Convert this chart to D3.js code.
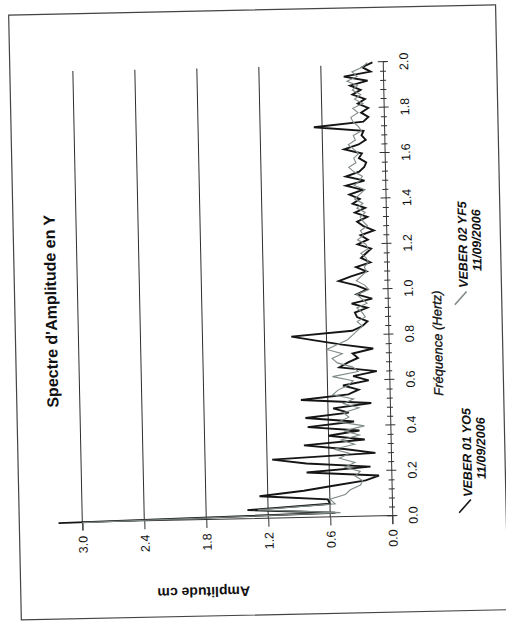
<html>
<head>
  <meta charset="utf-8">
  <title>Spectre d'Amplitude en Y</title>
  <script src="https://cdnjs.cloudflare.com/ajax/libs/d3/7.8.5/d3.min.js"></script>
  <style>
    body { margin: 0; background: #fff; }
    text { font-family: "Liberation Sans", Arial, sans-serif; fill: #111; }
  </style>
</head>
<body>
<script>
  // tick labels
  var freqTicks = [0.0, 0.2, 0.4, 0.6, 0.8, 1.0, 1.2, 1.4, 1.6, 1.8, 2.0];
  var ampTicks = [0.0, 0.6, 1.2, 1.8, 2.4, 3.0];

  // spectra, one value every 0.02 Hz from 0 to 2 Hz
  var freqStep = 0.02;
  var yo5 = [3.23, 0.55, 1.40, 0.60, 0.62, 1.28, 0.85, 0.55, 0.25, 0.12,
             0.82, 0.20, 0.82, 1.15, 0.15, 0.45, 0.84, 0.25, 0.60, 0.30,
             0.80, 0.35, 0.82, 0.40, 0.55, 0.18, 0.86, 0.40, 0.30, 0.45,
             0.20, 0.35, 0.12, 0.48, 0.40, 0.30, 0.35, 0.15, 0.45, 0.70,
             0.94, 0.35, 0.25, 0.20, 0.30, 0.32, 0.20, 0.35, 0.15, 0.30,
             0.20, 0.30, 0.47, 0.35, 0.20, 0.30, 0.16, 0.25, 0.20, 0.15,
             0.28, 0.18, 0.25, 0.12, 0.22, 0.28, 0.18, 0.30, 0.20, 0.32,
             0.25, 0.35, 0.22, 0.38, 0.20, 0.38, 0.25, 0.20, 0.18, 0.25,
             0.22, 0.39, 0.25, 0.18, 0.22, 0.20, 0.68, 0.20, 0.15, 0.22,
             0.15, 0.25, 0.18, 0.30, 0.22, 0.32, 0.15, 0.38, 0.12, 0.20,
             0.10];
  var yf5 = [3.00, 0.50, 1.30, 0.55, 0.60, 0.45, 0.40, 0.30, 0.28, 0.35,
             0.30, 0.45, 0.35, 0.50, 0.40, 0.55, 0.35, 0.48, 0.30, 0.45,
             0.25, 0.50, 0.40, 0.45, 0.30, 0.45, 0.35, 0.55, 0.50, 0.40,
             0.35, 0.55, 0.30, 0.35, 0.50, 0.55, 0.45, 0.60, 0.50, 0.40,
             0.35, 0.30, 0.25, 0.30, 0.22, 0.25, 0.30, 0.20, 0.25, 0.30,
             0.18, 0.22, 0.30, 0.25, 0.20, 0.22, 0.18, 0.20, 0.25, 0.18,
             0.20, 0.28, 0.22, 0.25, 0.18, 0.22, 0.25, 0.20, 0.28, 0.22,
             0.30, 0.25, 0.20, 0.30, 0.25, 0.22, 0.30, 0.35, 0.28, 0.30,
             0.25, 0.30, 0.35, 0.28, 0.30, 0.22, 0.25, 0.30, 0.32, 0.25,
             0.30, 0.20, 0.28, 0.22, 0.30, 0.25, 0.35, 0.25, 0.30, 0.20,
             0.15];

  var seriesNames = ["VEBER 01 YO5", "VEBER 02 YF5"];
  var seriesDates = ["11/09/2006", "11/09/2006"];
  var seriesColors = ["#151515", "#7f8a86"];

  var width = 506,
      height = 630,
      plotW = 454,
      plotH = 310;

  var svg = d3.select("body")
    .append("svg")
    .attr("width", width)
    .attr("height", height);

  // the scanned page sits a bit crooked
  var page = svg.append("g")
    .attr("transform", "rotate(-1.2,253,315)");

  page.append("rect")
    .attr("x", 15)
    .attr("y", 10)
    .attr("width", 487)
    .attr("height", 605)
    .attr("fill", "none")
    .attr("stroke", "#444")
    .attr("stroke-width", 1.2);

  // chart printed sideways: frequency goes up, amplitude goes left
  var g = page.append("g")
    .attr("transform", "translate(388,519) rotate(-90)");

  var x = d3.scaleLinear().domain([0, 2]).range([0, plotW]);
  var y = d3.scaleLinear().domain([0, 3]).range([0, -plotH]);

  // grid lines
  g.selectAll("line.grid")
    .data(ampTicks.slice(1))
    .enter()
    .append("line")
    .attr("class", "grid")
    .attr("x1", 0)
    .attr("x2", x(1.99))
    .attr("y1", function (d) { return y(d) })
    .attr("y2", function (d) { return y(d) })
    .attr("stroke", "#2e2e2e")
    .attr("stroke-width", 1);

  // amplitude axis
  var ampAxis = g.append("g")
    .call(d3.axisLeft(y).tickValues(ampTicks).tickSize(8).tickFormat(d3.format(".1f")));
  ampAxis.select(".domain").attr("stroke", "#333");
  ampAxis.selectAll(".tick line").attr("stroke", "#333");
  ampAxis.selectAll(".tick text")
    .attr("x", -22)
    .attr("dy", "0.35em")
    .attr("text-anchor", "middle")
    .style("font-size", "12.5px");

  // minor frequency ticks every 0.04
  var minorTicks = d3.range(0, 2.001, 0.04).filter(function (d) {
    return Math.abs(d / 0.2 - Math.round(d / 0.2)) > 0.01
  });
  g.selectAll("line.minor")
    .data(minorTicks)
    .enter()
    .append("line")
    .attr("class", "minor")
    .attr("x1", function (d) { return x(d) })
    .attr("x2", function (d) { return x(d) })
    .attr("y1", -3)
    .attr("y2", 3)
    .attr("stroke", "#333");

  // frequency axis
  var freqAxis = g.append("g")
    .call(d3.axisBottom(x).tickValues(freqTicks).tickSize(5).tickFormat(d3.format(".1f")));
  freqAxis.select(".domain").attr("stroke", "#333");
  freqAxis.selectAll(".tick line").attr("y1", -5).attr("stroke", "#333");
  freqAxis.selectAll(".tick text")
    .attr("y", 21)
    .attr("dy", "0.35em")
    .style("font-size", "12.5px");

  // the two spectra
  var line = d3.line()
    .x(function (d, i) { return x(i * freqStep) })
    .y(function (d) { return y(d) });

  g.append("path")
    .datum(yo5)
    .attr("d", line)
    .attr("fill", "none")
    .attr("stroke", seriesColors[0])
    .attr("stroke-width", 1.9);

  g.append("path")
    .datum(yf5)
    .attr("d", line)
    .attr("fill", "none")
    .attr("stroke", seriesColors[1])
    .attr("stroke-width", 1.1);

  // titles
  g.append("text")
    .attr("x", 212)
    .attr("y", -337)
    .attr("dy", "0.35em")
    .attr("text-anchor", "middle")
    .style("font-size", "16px")
    .style("font-weight", "bold")
    .text("Spectre d'Amplitude en Y");

  g.append("text")
    .attr("transform", "translate(-72,-190) rotate(-90)")
    .attr("dy", "0.35em")
    .attr("text-anchor", "middle")
    .style("font-size", "14px")
    .style("font-weight", "bold")
    .text("Amplitude cm");

  g.append("text")
    .attr("x", 172)
    .attr("y", 49)
    .attr("dy", "0.35em")
    .attr("text-anchor", "middle")
    .style("font-size", "13px")
    .style("font-style", "italic")
    .style("stroke", "#111")
    .style("stroke-width", 0.3)
    .text("Fréquence (Hertz)");

  // legend: short slanted line, name, date
  var legendX = [62, 270];
  seriesNames.forEach(function (name, i) {
    var lx = legendX[i];
    g.append("line")
      .attr("x1", lx - 60)
      .attr("y1", 67)
      .attr("x2", lx - 47)
      .attr("y2", 79)
      .attr("stroke", seriesColors[i])
      .attr("stroke-width", 1.6);
    g.append("text")
      .attr("x", lx)
      .attr("y", 76)
      .attr("dy", "0.35em")
      .attr("text-anchor", "middle")
      .style("font-size", "12.5px")
      .style("font-weight", "bold")
      .style("font-style", "italic")
      .text(name);
    g.append("text")
      .attr("x", lx + 4)
      .attr("y", 90)
      .attr("dy", "0.35em")
      .attr("text-anchor", "middle")
      .style("font-size", "12.5px")
      .style("font-weight", "bold")
      .style("font-style", "italic")
      .text(seriesDates[i]);
  });
</script>
</body>
</html>
